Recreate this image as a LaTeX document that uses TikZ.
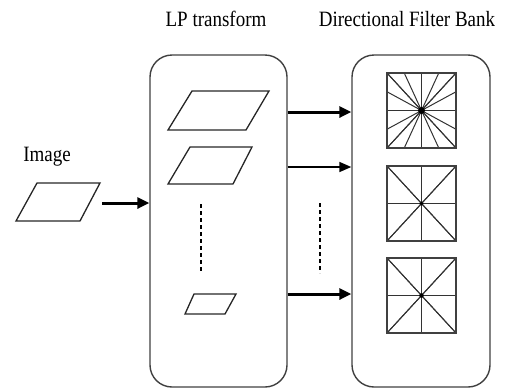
\documentclass[tikz,border=0pt]{standalone}
\usepackage{fontspec}
\setmainfont{Liberation Serif}
\usetikzlibrary{arrows.meta}
\begin{document}
\begin{tikzpicture}[x=1pt,y=-1pt,
  box/.style={draw=black!75,line width=1.4pt,rounded corners=22pt,minimum width=137pt,minimum height=332pt,inner sep=0pt},
  para/.style={draw=black!85,line width=1.3pt,line join=miter},
  sq/.style={draw=black!75,line width=1.3pt},
  ray/.style={draw=black!80,line width=1pt},
  title/.style={font=\fontsize{19}{22}\selectfont,inner sep=0pt},
  thickarr/.style={line width=3pt,-{Triangle[length=12pt,width=11pt]}},
  thinarr/.style={line width=1.6pt,-{Triangle[length=12pt,width=10pt]}},
  dotline/.style={line width=2.4pt,dash pattern=on 4pt off 3pt}]
\useasboundingbox (0,0) rectangle (505,389);
% titles
\node[title] (tlp) at (216,19) {\scalebox{1}[1.15]{LP transform}};
\node[title] (tdfb) at (407,19) {\scalebox{1}[1.15]{Directional Filter Bank}};
\node[title] (timg) at (47,157) {\scalebox{1}[1.15]{Image}};
% boxes
\node[box] (lp) at (218.5,221) {};
\node[box,minimum width=138pt] (dfb) at (421,221) {};
% image parallelogram
\draw[para] (37,183) -- (100,183) -- (80,221) -- (16,221) -- cycle;
\coordinate (imgout) at (102,203);
\draw[thickarr] (imgout) -- (lp.west |- imgout);
% LP parallelograms
\draw[para] (192,91) -- (269,91) -- (246,130) -- (168,130) -- cycle;
\draw[para] (190,147) -- (252,147) -- (233,184) -- (168,184) -- cycle;
\draw[para] (194,294) -- (236,294) -- (225,314) -- (185,314) -- cycle;
\coordinate (d1a) at (201,204);
\coordinate (d1b) at (201,273);
\draw[dotline] (d1a) -- (d1b);
% arrows between boxes
\coordinate (a1) at (lp.east |- 0,112);
\coordinate (a2) at (lp.east |- 0,167);
\coordinate (a3) at (lp.east |- 0,294);
\draw[thickarr] (a1) -- (dfb.west |- a1);
\draw[thinarr] (a2) -- (dfb.west |- a2);
\draw[thickarr] (a3) -- (dfb.west |- a3);
\coordinate (d2a) at (320,203);
\coordinate (d2b) at (320,273);
\draw[dotline] (d2a) -- (d2b);
% DFB squares
\def\hw{34.5}
\def\hh{37.5}
% square 1: many directions
\coordinate (c1) at (421.5,110.5);
\foreach \t in {-1,-0.5,0,0.5,1}{
  \draw[ray] (c1) -- ++(\t*\hw,-\hh);
  \draw[ray] (c1) -- ++(\t*\hw,\hh);
  \draw[ray] (c1) -- ++(-\hw,\t*\hh);
  \draw[ray] (c1) -- ++(\hw,\t*\hh);
}
\draw[sq] (387,73) rectangle (456,148);
\fill (c1) circle (3.5pt);
% square 2
\coordinate (c2) at (421.5,203.5);
\foreach \t in {-1,0,1}{
  \draw[ray] (c2) -- ++(\t*\hw,-\hh);
  \draw[ray] (c2) -- ++(\t*\hw,\hh);
  \draw[ray] (c2) -- ++(-\hw,\t*\hh);
  \draw[ray] (c2) -- ++(\hw,\t*\hh);
}
\draw[sq] (387,166) rectangle (456,241);
\fill (c2) circle (1.8pt);
% square 3
\coordinate (c3) at (421.5,295.5);
\foreach \t in {-1,0,1}{
  \draw[ray] (c3) -- ++(\t*\hw,-\hh);
  \draw[ray] (c3) -- ++(\t*\hw,\hh);
  \draw[ray] (c3) -- ++(-\hw,\t*\hh);
  \draw[ray] (c3) -- ++(\hw,\t*\hh);
}
\draw[sq] (387,258) rectangle (456,333);
\fill (c3) circle (2.2pt);
\end{tikzpicture}
\end{document}
